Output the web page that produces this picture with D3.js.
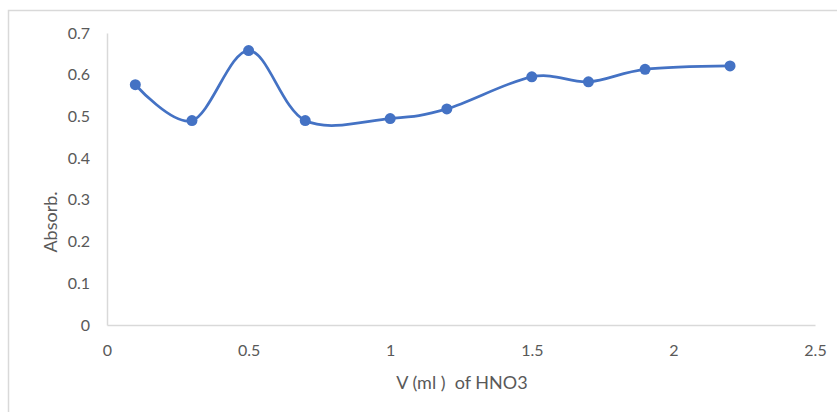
<!DOCTYPE html>
<html>
<head>
<meta charset="utf-8">
<script src="https://cdn.jsdelivr.net/npm/d3@7"></script>
<style>
  body { margin: 0; background: #fff; }
  text { font-family: Lato, "Open Sans", sans-serif; fill: #595959; }
</style>
</head>
<body>
<div id="chart"></div>
<script>
// Data
var volumes = [0.1, 0.3, 0.5, 0.7, 1.0, 1.2, 1.5, 1.7, 1.9, 2.2];
var absorb = [0.576, 0.490, 0.658, 0.490, 0.495, 0.518, 0.595, 0.583, 0.613, 0.621];
var xTicks = [0, 0.5, 1, 1.5, 2, 2.5];
var yTicks = [0, 0.1, 0.2, 0.3, 0.4, 0.5, 0.6, 0.7];

var W = 837, H = 412;
var margin = {top: 33, right: 22, bottom: 87, left: 107};
var width = W - margin.left - margin.right;
var height = H - margin.top - margin.bottom;

var svg = d3.select('#chart').append('svg')
  .attr('width', W)
  .attr('height', H);

// chart frame (Excel style border)
svg.append('path')
  .attr('d', 'M8.5,' + H + 'V10.5H' + W)
  .attr('fill', 'none')
  .attr('stroke', '#d9d9d9')
  .attr('stroke-width', 1.5);

var g = svg.append('g')
  .attr('transform', 'translate(' + margin.left + ',' + margin.top + ')');

var x = d3.scaleLinear().domain([0, 2.5]).range([0, width]);
var y = d3.scaleLinear().domain([0, 0.7]).range([height, 0]);

var xAxis = d3.axisBottom(x)
  .tickValues(xTicks)
  .tickSize(0)
  .tickPadding(20)
  .tickFormat(d3.format('~g'));

var yAxis = d3.axisLeft(y)
  .tickValues(yTicks)
  .tickSize(0)
  .tickPadding(17)
  .tickFormat(function(d) { return d === 0 ? '0' : d3.format('.1f')(d); });

var gx = g.append('g')
  .attr('transform', 'translate(0,' + height + ')')
  .call(xAxis);
var gy = g.append('g').call(yAxis);

[gx, gy].forEach(function(a) {
  a.attr('font-size', null).attr('font-family', null);
  a.select('.domain').attr('stroke', '#d9d9d9').attr('stroke-width', 1.5);
  a.selectAll('.tick text').style('font-size', '16px');
});

// axis titles
svg.append('text')
  .attr('x', 462)
  .attr('y', 389)
  .attr('text-anchor', 'middle')
  .style('font-size', '18px')
  .style('white-space', 'pre')
  .text('V (ml )  of HNO3');

svg.append('text')
  .attr('transform', 'translate(57,222) rotate(-90)')
  .attr('text-anchor', 'middle')
  .style('font-size', '18px')
  .text('Absorb.');

// smoothed series
var pts = volumes.map(function(v, i) { return [v, absorb[i]]; });

var line = d3.line()
  .x(function(d) { return x(d[0]); })
  .y(function(d) { return y(d[1]); })
  .curve(d3.curveCardinal.tension(0));

g.append('path')
  .attr('d', line(pts))
  .attr('fill', 'none')
  .attr('stroke', '#4472c4')
  .attr('stroke-width', 2.75)
  .attr('stroke-linecap', 'round');

g.selectAll('.dot')
  .data(pts)
  .enter().append('circle')
  .attr('class', 'dot')
  .attr('cx', function(d) { return x(d[0]); })
  .attr('cy', function(d) { return y(d[1]); })
  .attr('r', 5.5)
  .attr('fill', '#4472c4');
</script>
</body>
</html>
